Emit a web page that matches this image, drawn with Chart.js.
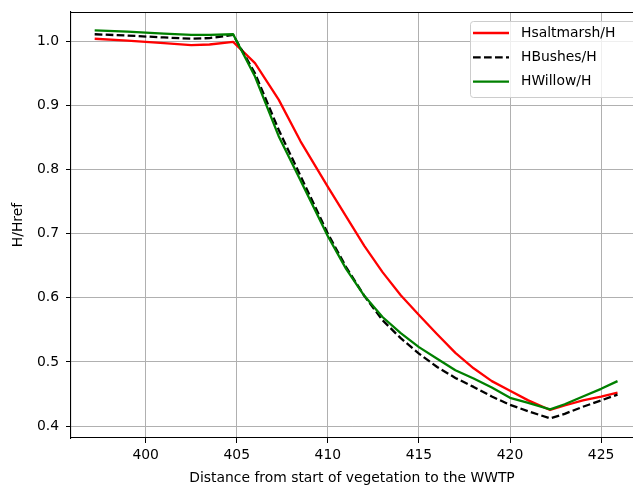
<!DOCTYPE html>
<html>
<head>
<meta charset="utf-8">
<script src="https://cdn.jsdelivr.net/npm/chart.js@4.4.1/dist/chart.umd.min.js"></script>
<style>
  html, body { margin: 0; padding: 0; background: #fff; }
  #chart { display: block; }
</style>
</head>
<body>
<canvas id="chart" width="633" height="488"></canvas>
<script>
/* ── data ── */
const distance = [397.2, 399, 401, 402.5, 403.5, 404.8, 406, 407.3, 408.5, 410, 411, 412, 413,
  414, 415, 416, 417, 418, 419, 420, 421, 422.2, 423, 424, 425, 425.9];

const hSaltmarsh = [1.004, 1.001, 0.997, 0.994, 0.995, 0.999, 0.966, 0.909, 0.844, 0.773, 0.727, 0.681, 0.640,
  0.604, 0.573, 0.543, 0.514, 0.490, 0.470, 0.455, 0.440, 0.425, 0.432, 0.440, 0.446, 0.452];

const hBushes = [1.011, 1.009, 1.006, 1.004, 1.005, 1.010, 0.950, 0.862, 0.790, 0.700, 0.648, 0.603, 0.565,
  0.537, 0.513, 0.492, 0.475, 0.461, 0.446, 0.433, 0.423, 0.412, 0.419, 0.430, 0.440, 0.449];

const hWillow = [1.017, 1.015, 1.012, 1.010, 1.010, 1.011, 0.945, 0.852, 0.783, 0.696, 0.645, 0.603, 0.570,
  0.545, 0.523, 0.505, 0.487, 0.474, 0.460, 0.444, 0.436, 0.426, 0.434, 0.446, 0.458, 0.470];

const xTicks = [400, 405, 410, 415, 420, 425];
const yTicks = [0.4, 0.5, 0.6, 0.7, 0.8, 0.9, 1.0];

const FONT = { family: "'DejaVu Sans', sans-serif", size: 13.9 };
const GRID = '#b0b0b0';

function toPoints(ys) {
  return distance.map((x, i) => ({ x: x, y: ys[i] }));
}

/* ── top spine (matplotlib box, right side is cropped in the reference) ── */
const topSpine = {
  id: 'topSpine',
  afterDraw(chart) {
    const { ctx, chartArea } = chart;
    ctx.save();
    ctx.strokeStyle = '#000';
    ctx.lineWidth = 1.1;
    ctx.beginPath();
    ctx.moveTo(chartArea.left, chartArea.top + 0.5);
    ctx.lineTo(chartArea.right, chartArea.top + 0.5);
    ctx.stroke();
    ctx.restore();
  }
};

/* ── legend in the upper right corner, matplotlib style ── */
const innerLegend = {
  id: 'innerLegend',
  afterDraw(chart) {
    const { ctx, chartArea } = chart;
    const sets = chart.data.datasets;
    const x0 = chartArea.right - 163, y0 = chartArea.top + 9;
    const w = 180, h = 76, r = 3;
    ctx.save();
    ctx.fillStyle = 'rgba(255,255,255,0.8)';
    ctx.strokeStyle = '#cccccc';
    ctx.lineWidth = 1;
    ctx.beginPath();
    ctx.roundRect(x0 + 0.5, y0 + 0.5, w, h, r);
    ctx.fill();
    ctx.stroke();

    ctx.font = FONT.size + 'px ' + FONT.family;
    ctx.textBaseline = 'middle';
    ctx.fillStyle = '#000';
    sets.forEach((ds, i) => {
      const y = y0 + 12 + i * 24.3;
      ctx.strokeStyle = ds.borderColor;
      ctx.lineWidth = ds.borderWidth;
      ctx.setLineDash(ds.borderDash || []);
      ctx.beginPath();
      ctx.moveTo(x0 + 3, y);
      ctx.lineTo(x0 + 39, y);
      ctx.stroke();
      ctx.setLineDash([]);
      ctx.fillText(ds.label, x0 + 51, y);
    });
    ctx.restore();
  }
};

new Chart(document.getElementById('chart'), {
  type: 'line',
  data: {
    datasets: [
      { label: 'Hsaltmarsh/H', data: toPoints(hSaltmarsh), borderColor: '#ff0000', borderWidth: 2.3, order: 3 },
      { label: 'HBushes/H', data: toPoints(hBushes), borderColor: '#000000', borderWidth: 2.3, borderDash: [7.7, 3.3], order: 2 },
      { label: 'HWillow/H', data: toPoints(hWillow), borderColor: '#008000', borderWidth: 2.3, order: 1 }
    ]
  },
  options: {
    responsive: false,
    animation: false,
    events: [],
    elements: {
      point: { radius: 0 },
      line: { tension: 0, fill: false, borderCapStyle: 'butt', borderJoinStyle: 'round' }
    },
    layout: { padding: { top: 12, right: 0, left: 0, bottom: 0 } },
    scales: {
      x: {
        type: 'linear',
        min: 395.9,
        max: 426.75,
        afterFit(scale) { scale.height = 50; scale.paddingLeft = 0; scale.paddingRight = 0; },
        afterBuildTicks(scale) { scale.ticks = xTicks.map(v => ({ value: v })); },
        ticks: { font: FONT, color: '#000', padding: 4, maxRotation: 0, autoSkip: false,
          callback: v => String(v) },
        grid: { color: GRID, lineWidth: 1, tickColor: '#000', tickLength: 5 },
        border: { color: '#000', width: 1.1 },
        title: { display: true, text: 'Distance from start of vegetation to the WWTP', font: FONT,
          color: '#000', padding: { top: 0, bottom: 1.6 } }
      },
      y: {
        type: 'linear',
        min: 0.3813,
        max: 1.0457,
        afterFit(scale) { scale.width = 71; scale.paddingTop = 0; scale.paddingBottom = 0; },
        afterBuildTicks(scale) { scale.ticks = yTicks.map(v => ({ value: v })); },
        ticks: { font: FONT, color: '#000', padding: 7, callback: v => v.toFixed(1) },
        grid: { color: GRID, lineWidth: 1, tickColor: '#000', tickLength: 5 },
        border: { color: '#000', width: 1.1 },
        title: { display: true, text: 'H/Href', font: FONT, color: '#000', padding: { top: 9.6, bottom: 0 } }
      }
    },
    plugins: {
      legend: { display: false },
      tooltip: { enabled: false }
    }
  },
  plugins: [topSpine, innerLegend]
});
</script>
</body>
</html>
